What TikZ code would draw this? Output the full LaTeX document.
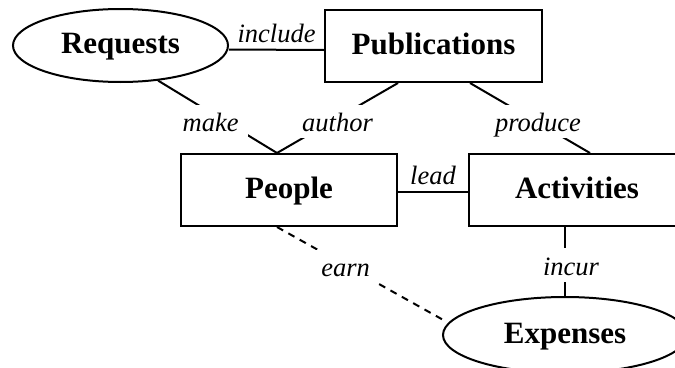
\documentclass[tikz,border=0pt]{standalone}
\usepackage{fontspec}
\setmainfont{Liberation Serif}
\usetikzlibrary{shapes.geometric}
\begin{document}
\begin{tikzpicture}[x=1pt,y=-1pt,line width=2pt,
  entity/.style={rectangle, draw=black, minimum width=216, minimum height=72, inner sep=0,
    font=\fontsize{31}{31}\selectfont\bfseries, text height=22.3pt, text depth=5.6pt},
  weak/.style={entity, ellipse},
  lab/.style={inner xsep=9, inner ysep=3, font=\fontsize{26.5}{26.5}\selectfont\itshape,
    text height=23.9pt, text depth=3.4pt},
  rel/.style={lab, fill=white},
  earnline/.style={dash pattern=on 7pt off 6pt, shorten >=7pt}]
\useasboundingbox (0,0) rectangle (675,367);
\clip (0,0) rectangle (675,367);
\node [weak, minimum width=215, minimum height=73] (req) at (120.5,45.5) {Requests};
\node [entity, minimum width=217] (pub) at (433.5,46) {Publications};
\node [entity] (ppl) at (289,190) {People};
\node [entity] (act) at (577,190) {Activities};
\node [weak, minimum width=244, minimum height=76] (exp) at (565,335) {Expenses};
\draw ([yshift=-4]req.east) -- node [lab, above] {include} ([yshift=-4]pub.west);
\draw (req.-43) -- node [rel, xshift=-7, yshift=-4.5] {make} ([xshift=-12]ppl.north);
\draw ([xshift=-35.5]pub.south) -- node [rel, yshift=-3.5] {author} ([xshift=-12]ppl.north);
\draw ([xshift=36.5]pub.south) -- node [rel, xshift=8, yshift=-3.5] {produce} ([xshift=13]act.north);
\draw ([yshift=-2]ppl.east) -- node [lab, above] {lead} ([yshift=-2]act.west);
\draw ([xshift=-12]act.south) -- node [rel, xshift=6, yshift=-3.5] {incur} (exp.north);
\draw [earnline] ([xshift=-12]ppl.south) -- node [rel, xshift=-17, yshift=8.5] {earn} (exp.174);
\end{tikzpicture}
\end{document}
